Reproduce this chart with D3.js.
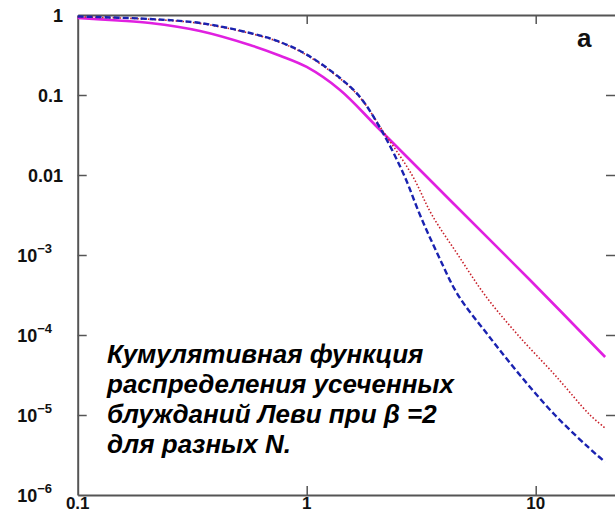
<!DOCTYPE html>
<html><head><meta charset="utf-8">
<script src="https://cdn.jsdelivr.net/npm/d3@7"></script>
<style>html,body{margin:0;padding:0;background:#fff;overflow:hidden}</style>
</head><body>
<svg id="c" width="615" height="514"></svg>
<script>
// ---- data ----
const xTicks = [0.1, 1, 10];
const xTickLabels = ["0.1", "1", "10"];
const yTicks = [1, 0.1, 0.01, 1e-3, 1e-4, 1e-5, 1e-6];
const yTickBase = ["1", "0.1", "0.01", "10", "10", "10", "10"];
const yTickExp = ["", "", "", "\u22123", "\u22124", "\u22125", "\u22126"];

const magentaX = [0.1, 0.15, 0.207, 0.342, 0.565, 0.765, 1, 1.398, 2.05, 4.22, 9.44, 20.1];
const magentaY = [0.917, 0.854, 0.794, 0.631, 0.422, 0.31, 0.224, 0.1155, 0.0387, 0.00487, 4.87e-4, 5.31e-5];

const blueX = [0.1, 0.207, 0.342, 0.565, 0.765, 1, 1.398, 1.709, 2.153, 2.66, 3.125, 3.745, 4.58, 6.19, 8.53, 12.13, 18.5, 20.1];
const blueY = [0.958, 0.891, 0.794, 0.596, 0.46, 0.32, 0.163, 0.0944, 0.0335, 0.01, 3.16e-3, 1e-3, 3.16e-4, 1e-4, 3.16e-5, 1e-5, 3.16e-6, 2.6e-6];

const redX = [0.1, 0.207, 0.342, 0.565, 0.765, 1, 1.398, 1.709, 2.18, 2.883, 3.525, 4.58, 6.0, 8.36, 12.13, 17.26, 20.1];
const redY = [0.95, 0.885, 0.785, 0.59, 0.455, 0.315, 0.16, 0.093, 0.0335, 0.01, 3.16e-3, 1e-3, 3.16e-4, 1e-4, 3.16e-5, 1e-5, 6.88e-6];

const panelLabel = "a";
const noteLines = ["Кумулятивная функция", "распределения усеченных", "блужданий Леви при β =2", "для разных N."];

// ---- layout ----
const L = 77.7, R = 616, T = 15, B = 495;
const svg = d3.select("#c");
const x = d3.scaleLog().domain([0.1, 22.42]).range([L, R]);
const y = d3.scaleLog().domain([1e-6, 1]).range([B, T]);

const axisColor = "#555";
function styleAxis(g){
  g.select(".domain").attr("stroke", axisColor).attr("stroke-width", 2);
  g.selectAll(".tick line").attr("stroke", axisColor).attr("stroke-width", 1.5);
  g.selectAll(".tick text").remove();
}
svg.append("g").attr("transform", `translate(0,${B})`)
  .call(d3.axisBottom(x).tickValues(xTicks.slice(1)).tickSize(-9).tickSizeOuter(0).tickFormat(""))
  .call(styleAxis);
svg.append("g").attr("transform", `translate(0,${T})`)
  .call(d3.axisTop(x).tickValues(xTicks.slice(1)).tickSize(-9).tickSizeOuter(0).tickFormat(""))
  .call(styleAxis);
svg.append("g").attr("transform", `translate(${L},0)`)
  .call(d3.axisLeft(y).tickValues(yTicks.slice(1, 6)).tickSize(-9).tickSizeOuter(0).tickFormat(""))
  .call(styleAxis);
svg.append("g").attr("transform", `translate(${R},0)`)
  .call(d3.axisRight(y).tickValues(yTicks.slice(1, 6)).tickSize(-10).tickSizeOuter(0).tickFormat(""))
  .call(styleAxis);

const font = "'Liberation Sans', Arial, sans-serif";
// y labels
yTicks.forEach((v, i) => {
  const t = svg.append("text")
    .attr("x", yTickExp[i] ? 52 : 63)
    .attr("y", y(v) + 6.5)
    .attr("text-anchor", "end")
    .attr("font-family", font).attr("font-weight", "bold").attr("font-size", 18)
    .attr("fill", "#111");
  if (yTickExp[i]) {
    t.append("tspan").text(yTickBase[i]);
    t.append("tspan").attr("dy", -9).attr("font-size", 13).text(yTickExp[i]);
  } else {
    t.text(yTickBase[i]);
  }
});
// x labels
xTicks.forEach((v, i) => {
  svg.append("text").attr("x", x(v)).attr("y", 509)
    .attr("text-anchor", "middle")
    .attr("font-family", font).attr("font-weight", "bold").attr("font-size", 17)
    .attr("fill", "#111").text(xTickLabels[i]);
});

// curves
const line = d3.line().x(d => x(d[0])).y(d => y(d[1])).curve(d3.curveCatmullRom.alpha(0.5));
const zip = (a, b) => a.map((v, i) => [v, b[i]]);

svg.append("path").datum(zip(magentaX, magentaY)).attr("d", line)
  .attr("fill", "none").attr("stroke", "#e020e0").attr("stroke-width", 2.6);
svg.append("path").datum(zip(redX, redY)).attr("d", line)
  .attr("fill", "none").attr("stroke", "#c8202a").attr("stroke-width", 1.6)
  .attr("stroke-dasharray", "1.5,2");
svg.append("path").datum(zip(blueX, blueY)).attr("d", line)
  .attr("fill", "none").attr("stroke", "#1a22b0").attr("stroke-width", 2.4)
  .attr("stroke-dasharray", "6,3");

// panel label
svg.append("text").attr("x", 577).attr("y", 47)
  .attr("font-family", font).attr("font-weight", "bold").attr("font-size", 26)
  .attr("fill", "#111").text(panelLabel);

// note
const note = svg.append("text").attr("font-family", font).attr("font-weight", "bold")
  .attr("font-style", "italic").attr("font-size", 26).attr("fill", "#000");
noteLines.forEach((s, i) => {
  note.append("tspan").attr("x", 107).attr("y", 363 + i * 30).text(s);
});
</script>
</body></html>
